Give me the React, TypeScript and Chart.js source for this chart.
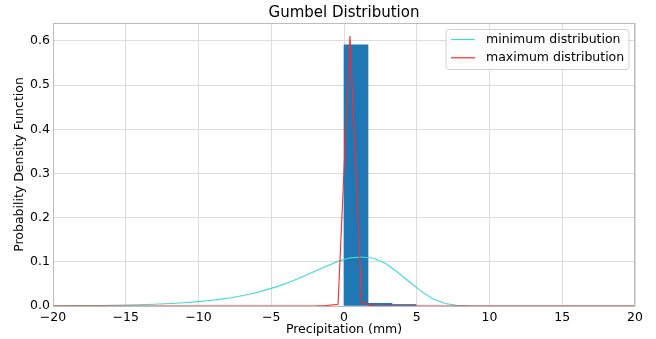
import React, { useEffect, useRef } from "react";
import { Chart, registerables } from "chart.js";

Chart.register(...registerables);

const chartTitle = "Gumbel Distribution";
const xAxisTitle = "Precipitation (mm)";
const yAxisTitle = "Probability Density Function";

// sample positions of the pdf curves
const sampleX = [
  -20, -19.18, -18.37, -17.55, -16.73, -15.92, -15.1, -14.29, -13.47, -12.65,
  -11.84, -11.02, -10.2, -9.39, -8.57, -7.76, -6.94, -6.12, -5.31, -4.49,
  -3.67, -2.86, -2.04, -1.22, -0.41, 0.41, 1.22, 2.04, 2.86, 3.67,
  4.49, 5.31, 6.12, 6.94, 7.76, 8.57, 9.39, 10.2, 11.02, 11.84,
  12.65, 13.47, 14.29, 15.1, 15.92, 16.73, 17.55, 18.37, 19.18, 20,
];

// minimum distribution pdf (cyan)
const minDistribution = [
  0.0005, 0.0006, 0.0008, 0.001, 0.0013, 0.0017, 0.0022, 0.0028, 0.0035, 0.0045,
  0.0057, 0.0073, 0.0093, 0.0118, 0.0149, 0.0188, 0.0236, 0.0295, 0.037, 0.045,
  0.055, 0.066, 0.078, 0.09, 0.101, 0.109, 0.111, 0.108, 0.096, 0.077,
  0.055, 0.033, 0.016, 0.0058, 0.0015, 0.0003, 0, 0, 0, 0,
  0, 0, 0, 0, 0, 0, 0, 0, 0, 0,
];

// maximum distribution pdf (red)
const maxDistribution = [
  0, 0, 0, 0, 0, 0, 0, 0, 0, 0,
  0, 0, 0, 0, 0, 0, 0, 0, 0, 0,
  0, 0, 0, 0.001, 0.004, 0.611, 0.008, 0, 0, 0,
  0, 0, 0, 0, 0, 0, 0, 0, 0, 0,
  0, 0, 0, 0, 0, 0, 0, 0, 0, 0,
];

// histogram
const binEdges = [0, 1.65, 3.3, 4.95];
const binHeights = [0.591, 0.006, 0.0035];

const xTicks = [-20, -15, -10, -5, 0, 5, 10, 15, 20];
const yTicks = [0.0, 0.1, 0.2, 0.3, 0.4, 0.5, 0.6];
const legendLabels = ["minimum distribution", "maximum distribution"];

const FONT = "'DejaVu Sans', 'Liberation Sans', sans-serif";
const CYAN = "#3fdcd4";
const RED = "#ff2a2a";

const frameAndLegend = {
  id: "frameAndLegend",
  afterDatasetsDraw(chart: any) {
    const { ctx, chartArea } = chart;
    const { left, right, top, bottom } = chartArea;
    ctx.save();
    // spines
    ctx.strokeStyle = "#bcbcbc";
    ctx.lineWidth = 1;
    ctx.strokeRect(left + 0.5, top + 0.5, right - left - 1, bottom - top);
    // legend
    const bw = 183;
    const bh = 40;
    const bx = right - 6 - bw;
    const by = top + 6.5;
    const r = 3;
    ctx.beginPath();
    ctx.moveTo(bx + r, by);
    ctx.lineTo(bx + bw - r, by);
    ctx.quadraticCurveTo(bx + bw, by, bx + bw, by + r);
    ctx.lineTo(bx + bw, by + bh - r);
    ctx.quadraticCurveTo(bx + bw, by + bh, bx + bw - r, by + bh);
    ctx.lineTo(bx + r, by + bh);
    ctx.quadraticCurveTo(bx, by + bh, bx, by + bh - r);
    ctx.lineTo(bx, by + r);
    ctx.quadraticCurveTo(bx, by, bx + r, by);
    ctx.closePath();
    ctx.fillStyle = "rgba(255,255,255,0.85)";
    ctx.fill();
    ctx.strokeStyle = "#d0d0d0";
    ctx.stroke();
    const colors = [CYAN, RED];
    ctx.font = `12.5px ${FONT}`;
    ctx.textBaseline = "middle";
    ctx.textAlign = "left";
    legendLabels.forEach((lab, i) => {
      const y = by + 10 + i * 18.3;
      ctx.strokeStyle = colors[i];
      ctx.lineWidth = 1.2;
      ctx.beginPath();
      ctx.moveTo(bx + 5, y);
      ctx.lineTo(bx + 29, y);
      ctx.stroke();
      ctx.fillStyle = "#000";
      ctx.fillText(lab, bx + 40, y);
    });
    ctx.restore();
  },
};

export default function App() {
  const ref = useRef<HTMLCanvasElement | null>(null);

  useEffect(() => {
    if (!ref.current) return;
    const toPts = (ys: number[]) => ys.map((y, i) => ({ x: sampleX[i], y }));
    const barPts = binHeights.map((h, i) => ({
      x: (binEdges[i] + binEdges[i + 1]) / 2,
      y: h,
    }));

    const chart = new Chart(ref.current, {
      type: "line",
      data: {
        datasets: [
          {
            type: "line",
            label: legendLabels[1],
            data: toPts(maxDistribution),
            borderColor: RED,
            borderWidth: 1.1,
            pointRadius: 0,
            tension: 0,
            fill: false,
            order: 0,
          },
          {
            type: "line",
            label: legendLabels[0],
            data: toPts(minDistribution),
            borderColor: CYAN,
            borderWidth: 1.1,
            pointRadius: 0,
            tension: 0,
            fill: false,
            order: 1,
          },
          {
            type: "bar",
            label: "hist",
            data: barPts,
            backgroundColor: "#1f77b4",
            borderWidth: 0,
            barPercentage: 1,
            categoryPercentage: 1,
            order: 2,
          } as any,
        ],
      },
      options: {
        animation: false,
        responsive: false,
        layout: { padding: { left: 0, right: 21, top: 0, bottom: 0 } },
        plugins: {
          legend: { display: false },
          tooltip: { enabled: false },
          title: {
            display: true,
            text: chartTitle,
            fullSize: false,
            color: "#000",
            font: { family: FONT, size: 15, weight: "normal" },
            padding: { top: 4, bottom: 1 },
          },
        },
        scales: {
          x: {
            type: "linear",
            min: xTicks[0],
            max: xTicks[xTicks.length - 1],
            offset: false,
            grid: { color: "#dcdcdc", drawTicks: false, offset: false },
            border: { display: false },
            afterBuildTicks: (s: any) => {
              s.ticks = xTicks.map((v) => ({ value: v }));
            },
            ticks: {
              color: "#000",
              padding: 4.5,
              maxRotation: 0,
              autoSkip: false,
              font: { family: FONT, size: 12.5 },
              callback: (v: any) => String(v).replace("-", "\u2212"),
            },
            title: {
              display: true,
              text: xAxisTitle,
              color: "#000",
              font: { family: FONT, size: 12.5 },
              padding: { top: 0, bottom: 1.5 },
            },
            afterFit: (s: any) => {
              s.height = 33;
            },
          },
          y: {
            type: "linear",
            min: 0,
            max: 0.6405,
            grid: { color: "#dcdcdc", drawTicks: false },
            border: { display: false },
            afterBuildTicks: (s: any) => {
              s.ticks = yTicks.map((v) => ({ value: v }));
            },
            ticks: {
              color: "#000",
              padding: 3,
              autoSkip: false,
              font: { family: FONT, size: 12.5 },
              callback: (v: any) => Number(v).toFixed(1),
            },
            title: {
              display: true,
              text: yAxisTitle,
              color: "#000",
              font: { family: FONT, size: 12.5 },
              padding: { top: 12.5, bottom: 0 },
            },
            afterFit: (s: any) => {
              s.width = 53;
            },
          },
        },
      },
      plugins: [frameAndLegend],
    });
    return () => chart.destroy();
  }, []);

  return (
    <div style={{ position: "fixed", left: 0, top: 0, width: 656, height: 339, background: "#fff" }}>
      <canvas ref={ref} width={656} height={339} style={{ display: "block" }} />
    </div>
  );
}
